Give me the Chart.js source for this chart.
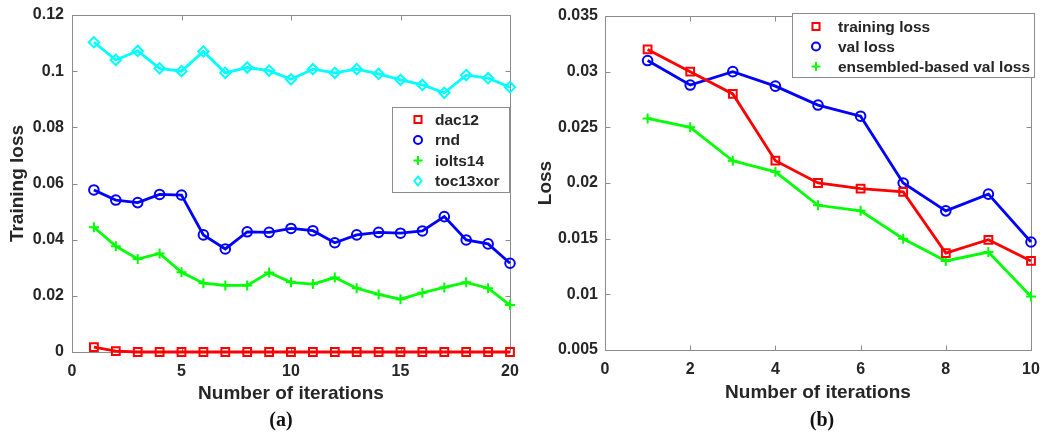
<!DOCTYPE html>
<html><head><meta charset="utf-8">
<script src="https://cdn.jsdelivr.net/npm/chart.js@4/dist/chart.umd.min.js"></script>
<style>
html,body{margin:0;padding:0;background:#fff;width:1044px;height:439px;overflow:hidden}
.wrap{position:absolute;top:0;height:439px;width:522px}
#wa{left:0}
#wb{left:522px}
.cap{position:absolute;font:bold 20px "Liberation Serif","DejaVu Serif",serif;color:#111;transform:translate(-50%,-50%);white-space:nowrap}
</style></head><body>
<div class="wrap" id="wa"><canvas id="ca" width="522" height="439"></canvas></div>
<div class="wrap" id="wb"><canvas id="cb" width="522" height="439"></canvas></div>
<div class="cap" style="left:281px;top:419px">(a)</div>
<div class="cap" style="left:822px;top:419px">(b)</div>
<script>
// ---- data: chart (a) ----
const iterA = [1,2,3,4,5,6,7,8,9,10,11,12,13,14,15,16,17,18,19,20];
const dac12 = [0.0017,0.0003,0,0,0,0,0,0,0,0,0,0,0,0,0,0,0,0,0,0];
const rnd = [0.0577,0.0541,0.0532,0.0561,0.0559,0.0417,0.0367,0.0428,0.0426,0.0440,0.0432,0.0389,0.0417,0.0426,0.0423,0.0431,0.0482,0.0399,0.0385,0.0316];
const iolts14 = [0.0444,0.0377,0.0331,0.0351,0.0284,0.0245,0.0237,0.0237,0.0283,0.0248,0.0242,0.0265,0.0227,0.0205,0.0188,0.0211,0.0230,0.0248,0.0227,0.0167];
const toc13xor = [0.1103,0.1040,0.1072,0.1010,0.1000,0.1070,0.0994,0.1013,0.1002,0.0971,0.1007,0.0994,0.1007,0.0990,0.0969,0.0951,0.0923,0.0986,0.0975,0.0943];
const xTicksA = [0,5,10,15,20];
const xTickLabelsA = ['0','5','10','15','20'];
const yTicksA = [0,0.02,0.04,0.06,0.08,0.1,0.12];
const yTickLabelsA = ['0','0.02','0.04','0.06','0.08','0.1','0.12'];
const seriesNamesA = ['dac12','rnd','iolts14','toc13xor'];

// ---- data: chart (b) ----
const iterB = [1,2,3,4,5,6,7,8,9,10];
const trainingLoss = [0.0320,0.0300,0.0280,0.0220,0.0200,0.0195,0.0192,0.0137,0.0149,0.0130];
const valLoss = [0.0310,0.0288,0.0300,0.0287,0.0270,0.0260,0.0200,0.0175,0.0190,0.0147];
const ensembledValLoss = [0.0258,0.0250,0.0220,0.0210,0.0180,0.0175,0.0150,0.0130,0.0138,0.0098];
const xTicksB = [0,2,4,6,8,10];
const xTickLabelsB = ['0','2','4','6','8','10'];
const yTicksB = [0.005,0.01,0.015,0.02,0.025,0.03,0.035];
const yTickLabelsB = ['0.005','0.01','0.015','0.02','0.025','0.03','0.035'];
const seriesNamesB = ['training loss','val loss','ensembled-based val loss'];

const RED='#ff0000', BLUE='#0000ff', GREEN='#00ff00', CYAN='#00ffff';
const TXT='#262626', AXC='#8c8c8c';
const FONT='"Liberation Sans", Arial, sans-serif';

function pts(xs, ys){ return xs.map((x,i)=>({x:x,y:ys[i]})); }

function ds(label, xs, ys, color, style, radius){
  return {label:label, data:pts(xs,ys), borderColor:color, backgroundColor:'rgba(0,0,0,0)',
    pointStyle:style, pointRadius:radius, pointHoverRadius:radius, pointBorderColor:color,
    pointBackgroundColor:'rgba(0,0,0,0)', pointBorderWidth:2, borderWidth:2.8, tension:0, clip:false};
}

function drawMarker(ctx, style, x, y, r, color){
  ctx.save();
  ctx.strokeStyle=color; ctx.lineWidth=2;
  ctx.beginPath();
  if(style==='rect'){ const s=r*Math.SQRT1_2; ctx.rect(x-s,y-s,2*s,2*s); }
  else if(style==='circle'){ ctx.arc(x,y,r,0,Math.PI*2); }
  else if(style==='cross'){ ctx.moveTo(x-r,y); ctx.lineTo(x+r,y); ctx.moveTo(x,y-r); ctx.lineTo(x,y+r); }
  else if(style==='rectRot'){ ctx.moveTo(x,y-r); ctx.lineTo(x+r*0.8,y); ctx.lineTo(x,y+r); ctx.lineTo(x-r*0.8,y); ctx.closePath(); }
  ctx.stroke();
  ctx.restore();
}

const framePlugin = {
  id:'frame',
  beforeDatasetsDraw(chart){
    const {ctx, chartArea:ca, scales} = chart;
    const L=Math.round(ca.left)+0.5, R=Math.round(ca.right)+0.5, T=Math.round(ca.top)+0.5, B=Math.round(ca.bottom)+0.5;
    ctx.save();
    ctx.strokeStyle=AXC; ctx.lineWidth=1;
    ctx.beginPath();
    ctx.rect(L,T,R-L,B-T);
    const tl=5;
    scales.x.ticks.forEach(t=>{ const p=Math.round(scales.x.getPixelForValue(t.value))+0.5;
      ctx.moveTo(p,B); ctx.lineTo(p,B-tl); ctx.moveTo(p,T); ctx.lineTo(p,T+tl); });
    scales.y.ticks.forEach(t=>{ const p=Math.round(scales.y.getPixelForValue(t.value))+0.5;
      ctx.moveTo(L,p); ctx.lineTo(L+tl,p); ctx.moveTo(R,p); ctx.lineTo(R-tl,p); });
    ctx.stroke();
    ctx.restore();
  }
};

const legendPlugin = {
  id:'boxLegend',
  afterDraw(chart, args, o){
    const ctx=chart.ctx;
    ctx.save();
    ctx.fillStyle='#fff';
    ctx.fillRect(o.x,o.y,o.w,o.h);
    ctx.strokeStyle=AXC; ctx.lineWidth=1;
    ctx.strokeRect(Math.round(o.x)+0.5,Math.round(o.y)+0.5,Math.round(o.w),Math.round(o.h));
    chart.data.datasets.forEach((d,i)=>{
      const yy=o.firstRow+i*o.rowH;
      drawMarker(ctx,d.pointStyle,o.markerX,yy,d.pointStyle==='rect'?5:(d.pointStyle==='circle'?4:4.5),d.borderColor);
      ctx.fillStyle=TXT; ctx.font='bold 15.5px '+FONT; ctx.textBaseline='middle'; ctx.textAlign='left';
      ctx.fillText(d.label,o.textX,yy+1);
    });
    ctx.restore();
  }
};

function makeOptions(cfg){
  return {
    responsive:false, animation:false, events:[],
    layout:{autoPadding:false, padding:{left:0,right:cfg.padRight,top:cfg.padTop,bottom:0}},
    plugins:{legend:{display:false}, tooltip:{enabled:false}, boxLegend:cfg.legend},
    scales:{
      x:{type:'linear', min:cfg.xMin, max:cfg.xMax,
        grid:{display:false, drawTicks:false}, border:{display:false},
        afterBuildTicks:(s)=>{ s.ticks=cfg.xTicks.map(v=>({value:v})); },
        afterFit:(s)=>{ s.height=cfg.xHeight; s.paddingLeft=0; s.paddingRight=0; },
        ticks:{padding:10, color:TXT, font:{family:FONT, size:16, weight:'bold'}, maxRotation:0,
          callback:(v,i)=>cfg.xLabels[i]},
        title:{display:true, text:'Number of iterations', color:TXT, font:{family:FONT, size:19, weight:'bold'},
          padding:{top:0,bottom:cfg.xTitlePad}}
      },
      y:{type:'linear', min:cfg.yMin, max:cfg.yMax,
        grid:{display:false, drawTicks:false}, border:{display:false},
        afterBuildTicks:(s)=>{ s.ticks=cfg.yTicks.map(v=>({value:v})); },
        afterFit:(s)=>{ s.width=cfg.yWidth; s.paddingTop=0; s.paddingBottom=0; },
        ticks:{padding:cfg.yTickPad, color:TXT, font:{family:FONT, size:16, weight:'bold'},
          callback:(v,i)=>cfg.yLabels[i]},
        title:{display:true, text:cfg.yTitle, color:TXT, font:{family:FONT, size:19, weight:'bold'},
          padding:{top:cfg.yTitlePad,bottom:0}}
      }
    }
  };
}

new Chart(document.getElementById('ca'), {
  type:'line',
  data:{datasets:[
    ds(seriesNamesA[0], iterA, dac12, RED, 'rect', 5.5),
    ds(seriesNamesA[1], iterA, rnd, BLUE, 'circle', 4.8),
    ds(seriesNamesA[2], iterA, iolts14, GREEN, 'cross', 5),
    ds(seriesNamesA[3], iterA, toc13xor, CYAN, 'rectRot', 5.2)
  ]},
  options:makeOptions({padRight:12, padTop:15, xMin:0, xMax:20, xTicks:xTicksA, xLabels:xTickLabelsA,
    yMin:0, yMax:0.12, yTicks:yTicksA, yLabels:yTickLabelsA, yTitle:'Training loss',
    xHeight:87, yWidth:72, yTickPad:8, xTitlePad:34, yTitlePad:6,
    legend:{x:392, y:107, w:117, h:85, markerX:418, textX:435, firstRow:119.5, rowH:20.5}}),
  plugins:[framePlugin, legendPlugin]
});

new Chart(document.getElementById('cb'), {
  type:'line',
  data:{datasets:[
    ds(seriesNamesB[0], iterB, trainingLoss, RED, 'rect', 5.5),
    ds(seriesNamesB[1], iterB, valLoss, BLUE, 'circle', 4.8),
    ds(seriesNamesB[2], iterB, ensembledValLoss, GREEN, 'cross', 5)
  ]},
  options:makeOptions({padRight:13, padTop:16, xMin:0, xMax:10, xTicks:xTicksB, xLabels:xTickLabelsB,
    yMin:0.005, yMax:0.035, yTicks:yTicksB, yLabels:yTickLabelsB, yTitle:'Loss',
    xHeight:89, yWidth:83, yTickPad:7, xTitlePad:35, yTitlePad:12,
    legend:{x:270, y:13, w:242, h:64, markerX:294, textX:316, firstRow:26.5, rowH:20}}),
  plugins:[framePlugin, legendPlugin]
});
</script>
</body></html>
